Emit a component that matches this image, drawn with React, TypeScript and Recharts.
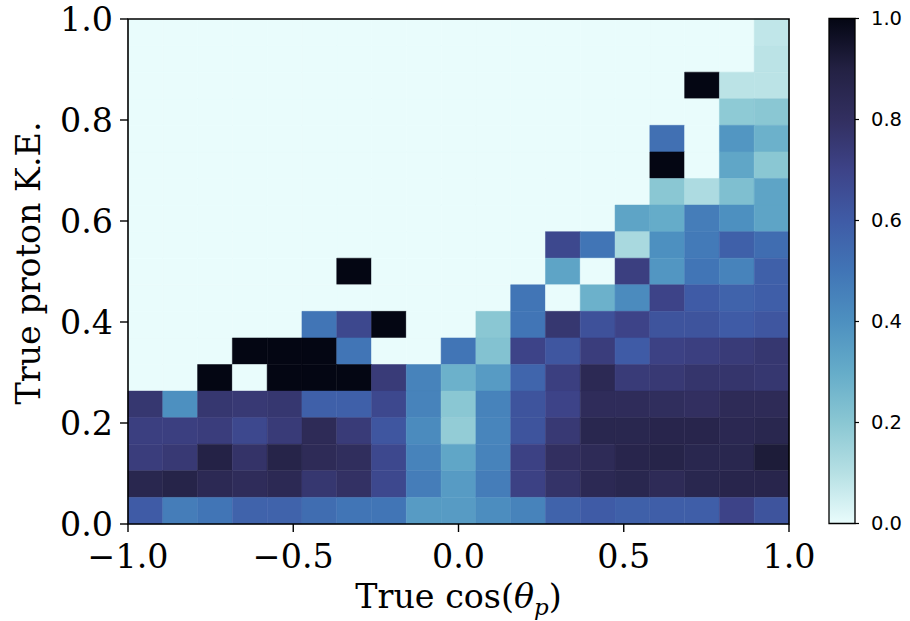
import React from "react";
import { ScatterChart, BarChart, Bar, XAxis, YAxis, ReferenceArea, Label } from "recharts";

// bin edges (19 x 19 histogram)
const xEdges = Array.from({ length: 20 }, (_, i) => -1 + (2 * i) / 19);
const yEdges = Array.from({ length: 20 }, (_, j) => j / 19);

// normalised fraction per bin, rows from the top (K.E. ~1.0) down to 0
const fractions: number[][] = [
  [0, 0, 0, 0, 0, 0, 0, 0, 0, 0, 0, 0, 0, 0, 0, 0, 0, 0, 0.08],
  [0, 0, 0, 0, 0, 0, 0, 0, 0, 0, 0, 0, 0, 0, 0, 0, 0, 0, 0.09],
  [0, 0, 0, 0, 0, 0, 0, 0, 0, 0, 0, 0, 0, 0, 0, 0, 1.0, 0.09, 0.09],
  [0, 0, 0, 0, 0, 0, 0, 0, 0, 0, 0, 0, 0, 0, 0, 0, 0, 0.19, 0.2],
  [0, 0, 0, 0, 0, 0, 0, 0, 0, 0, 0, 0, 0, 0, 0, 0.52, 0, 0.38, 0.28],
  [0, 0, 0, 0, 0, 0, 0, 0, 0, 0, 0, 0, 0, 0, 0, 1.0, 0, 0.32, 0.2],
  [0, 0, 0, 0, 0, 0, 0, 0, 0, 0, 0, 0, 0, 0, 0, 0.2, 0.12, 0.23, 0.33],
  [0, 0, 0, 0, 0, 0, 0, 0, 0, 0, 0, 0, 0, 0, 0.33, 0.3, 0.47, 0.4, 0.33],
  [0, 0, 0, 0, 0, 0, 0, 0, 0, 0, 0, 0, 0.68, 0.5, 0.13, 0.4, 0.48, 0.58, 0.53],
  [0, 0, 0, 0, 0, 0, 1.0, 0, 0, 0, 0, 0, 0.33, 0, 0.72, 0.38, 0.5, 0.45, 0.58],
  [0, 0, 0, 0, 0, 0, 0, 0, 0, 0, 0, 0.5, 0, 0.28, 0.42, 0.7, 0.6, 0.57, 0.59],
  [0, 0, 0, 0, 0, 0.5, 0.68, 1.0, 0, 0, 0.2, 0.5, 0.76, 0.64, 0.7, 0.63, 0.63, 0.6, 0.62],
  [0, 0, 0, 1.0, 1.0, 1.0, 0.5, 0, 0, 0.5, 0.22, 0.7, 0.62, 0.73, 0.6, 0.71, 0.72, 0.74, 0.76],
  [0, 0, 1.0, 0, 1.0, 1.0, 1.0, 0.74, 0.45, 0.28, 0.36, 0.56, 0.72, 0.84, 0.74, 0.75, 0.77, 0.77, 0.76],
  [0.76, 0.4, 0.76, 0.75, 0.76, 0.58, 0.58, 0.68, 0.45, 0.2, 0.45, 0.63, 0.7, 0.82, 0.82, 0.81, 0.8, 0.83, 0.83],
  [0.72, 0.72, 0.73, 0.68, 0.74, 0.83, 0.74, 0.62, 0.42, 0.18, 0.44, 0.63, 0.75, 0.86, 0.86, 0.87, 0.87, 0.85, 0.86],
  [0.73, 0.75, 0.89, 0.78, 0.88, 0.83, 0.81, 0.68, 0.45, 0.32, 0.45, 0.71, 0.8, 0.83, 0.87, 0.88, 0.86, 0.86, 0.92],
  [0.86, 0.88, 0.84, 0.82, 0.84, 0.76, 0.79, 0.68, 0.47, 0.36, 0.47, 0.71, 0.78, 0.84, 0.86, 0.83, 0.86, 0.87, 0.87],
  [0.6, 0.47, 0.5, 0.57, 0.57, 0.53, 0.5, 0.5, 0.36, 0.36, 0.41, 0.45, 0.57, 0.6, 0.58, 0.59, 0.59, 0.7, 0.63],
];

const xTicks = [-1, -0.5, 0, 0.5, 1];
const yTicks = [0, 0.2, 0.4, 0.6, 0.8, 1];
const cbarTicks = [0, 0.2, 0.4, 0.6, 0.8, 1];
const cbarData = [{ name: "scale", top: 1 }];

// reversed "ice" style colormap, sampled every 0.1
const iceStops: number[][] = [
  [233, 252, 252],
  [182, 224, 228],
  [138, 199, 211],
  [101, 172, 201],
  [77, 144, 192],
  [65, 117, 182],
  [63, 91, 166],
  [61, 67, 136],
  [50, 47, 96],
  [35, 33, 67],
  [4, 6, 19],
];

const iceColor = (v: number) => {
  const t = Math.max(0, Math.min(1, v)) * (iceStops.length - 1);
  const i = Math.min(Math.floor(t), iceStops.length - 2);
  const f = t - i;
  const c = iceStops[i].map((a, k) => Math.round(a + (iceStops[i + 1][k] - a) * f));
  return `rgb(${c[0]},${c[1]},${c[2]})`;
};

const serif = "DejaVu Serif";
const sans = "DejaVu Sans";

const cells = fractions.flatMap((row, r) =>
  row.map((v, c) => ({
    x1: xEdges[c],
    x2: xEdges[c + 1],
    y1: yEdges[18 - r],
    y2: yEdges[19 - r],
    fill: iceColor(v),
  })),
);

const fmt = (v: number) => (v < 0 ? "\u2212" + Math.abs(v).toFixed(1) : v.toFixed(1));

const XTitle = (props: any) => {
  const vb = props.viewBox || { x: 128, width: 661, y: 524 };
  return (
    <text
      x={vb.x + vb.width / 2}
      y={608}
      textAnchor="middle"
      fontFamily={serif}
      fontSize={33.3}
      fill="#000"
    >
      True cos(
      <tspan fontStyle="italic">θ</tspan>
      <tspan fontStyle="italic" fontSize={23} dy={7}>
        p
      </tspan>
      <tspan dy={-7}>)</tspan>
    </text>
  );
};

const YTitle = () => (
  <text
    x={40}
    y={263}
    transform="rotate(-90, 40, 263)"
    textAnchor="middle"
    fontFamily={serif}
    fontSize={33.3}
    fill="#000"
  >
    True proton K.E.
  </text>
);

export default function App() {
  return (
    <div style={{ position: "absolute", left: 0, top: 0, width: 910, height: 621, background: "#fff" }}>
      <div style={{ position: "absolute", left: 0, top: 0 }}>
        <ScatterChart width={910} height={621} margin={{ top: 19, right: 121, bottom: 37, left: 28 }}>
          <XAxis
            type="number"
            dataKey="x"
            domain={[-1, 1]}
            ticks={xTicks}
            tickFormatter={fmt}
            height={60}
            axisLine={false}
            tickSize={8}
            tickMargin={12}
            tickLine={{ stroke: "#000", strokeWidth: 1.4 }}
            tick={{ fill: "#000", fontFamily: serif, fontSize: 33.3 }}
            allowDataOverflow
          >
            <Label content={<XTitle />} />
          </XAxis>
          <YAxis
            type="number"
            dataKey="y"
            domain={[0, 1]}
            ticks={yTicks}
            tickFormatter={fmt}
            width={100}
            axisLine={false}
            tickSize={8}
            tickMargin={7}
            tickLine={{ stroke: "#000", strokeWidth: 1.4 }}
            tick={{ fill: "#000", fontFamily: serif, fontSize: 33.3 }}
            allowDataOverflow
          >
            <Label content={<YTitle />} />
          </YAxis>
          {cells.map((c, i) => (
            <ReferenceArea
              key={i}
              x1={c.x1}
              x2={c.x2}
              y1={c.y1}
              y2={c.y2}
              fill={c.fill}
              fillOpacity={1}
              stroke={c.fill}
              strokeWidth={0.5}
            />
          ))}
          <ReferenceArea x1={-1} x2={1} y1={0} y2={1} fill="none" stroke="#000" strokeWidth={1.6} />
        </ScatterChart>
      </div>
      <div style={{ position: "absolute", left: 800, top: 0 }}>
        <BarChart
          width={110}
          height={621}
          data={cbarData}
          margin={{ top: 18.5, right: 0, bottom: 97.5, left: 29 }}
          barCategoryGap={0}
        >
          <defs>
            <linearGradient id="iceGrad" x1="0" y1="1" x2="0" y2="0">
              {iceStops.map((c, i) => (
                <stop key={i} offset={`${i * 10}%`} stopColor={`rgb(${c[0]},${c[1]},${c[2]})`} />
              ))}
            </linearGradient>
          </defs>
          <XAxis dataKey="name" hide />
          <YAxis
            type="number"
            orientation="right"
            domain={[0, 1]}
            ticks={cbarTicks}
            tickFormatter={(v: number) => v.toFixed(1)}
            width={55}
            axisLine={false}
            tickSize={4}
            tickMargin={12}
            tickLine={{ stroke: "#000", strokeWidth: 1.2 }}
            tick={{ fill: "#000", fontFamily: sans, fontSize: 19.5 }}
          />
          <Bar
            dataKey="top"
            fill="url(#iceGrad)"
            stroke="#000"
            strokeWidth={1.3}
            isAnimationActive={false}
          />
        </BarChart>
      </div>
    </div>
  );
}
